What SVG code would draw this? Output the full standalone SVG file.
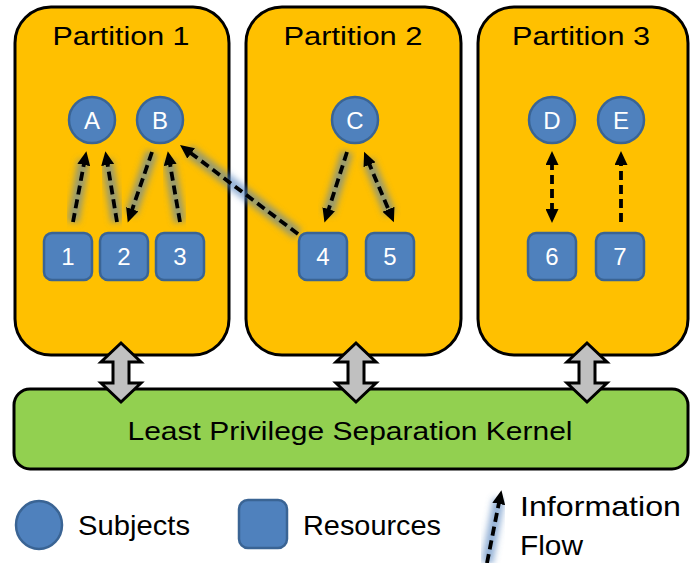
<svg xmlns="http://www.w3.org/2000/svg" width="690" height="563" viewBox="0 0 690 563">
<style>
.part{fill:#ffc000;stroke:#000;stroke-width:3}
.kern{fill:#92d050;stroke:#000;stroke-width:3}
.subj{fill:#4f81bd;stroke:#3a6494;stroke-width:2.5}
.res{fill:#4f81bd;stroke:#3a6494;stroke-width:2.5}
.lbl{font-family:"Liberation Sans",Arial,sans-serif;fill:#fff;font-size:24px;text-anchor:middle}
.title{font-family:"Liberation Sans",Arial,sans-serif;fill:#000;font-size:25px;text-anchor:middle}
.leg{font-family:"Liberation Sans",Arial,sans-serif;fill:#000;font-size:28px}
.dbl{fill:#c0c0c0;stroke:#000;stroke-width:3;stroke-linejoin:miter}
.glow{stroke:#4f81bd;stroke-width:12;stroke-opacity:0.6;fill:none;filter:url(#blur)}
.flow{stroke:#000;stroke-width:3.8;stroke-dasharray:9 5;fill:none;marker-end:url(#ah)}
.bi{marker-start:url(#ahs)}
</style>
<defs>
<filter id="blur" x="-50%" y="-50%" width="200%" height="200%"><feGaussianBlur stdDeviation="3"/></filter>
<marker id="ah" markerUnits="userSpaceOnUse" markerWidth="15" markerHeight="13" viewBox="0 0 15 13" refX="4" refY="6.5" orient="auto"><path d="M0,0 L14,6.5 L0,13 Z" fill="#000"/></marker>
<marker id="ahs" markerUnits="userSpaceOnUse" markerWidth="15" markerHeight="13" viewBox="0 0 15 13" refX="4" refY="6.5" orient="auto-start-reverse"><path d="M0,0 L14,6.5 L0,13 Z" fill="#000"/></marker>
</defs>

<g id="partition1"><rect class="part" x="15" y="7" width="214" height="348" rx="36"/><text class="title" x="121" y="45" textLength="137" lengthAdjust="spacingAndGlyphs">Partition 1</text></g>
<g id="partition2"><rect class="part" x="246" y="7" width="215" height="348" rx="36"/><text class="title" x="353" y="45" textLength="139" lengthAdjust="spacingAndGlyphs">Partition 2</text></g>
<g id="partition3"><rect class="part" x="478" y="7" width="210" height="348" rx="36"/><text class="title" x="581" y="45" textLength="138" lengthAdjust="spacingAndGlyphs">Partition 3</text></g>

<g id="kernel"><rect class="kern" x="14" y="389" width="674" height="80" rx="16"/><text class="title" x="350" y="440" font-size="26" textLength="445" lengthAdjust="spacingAndGlyphs">Least Privilege Separation Kernel</text></g>

<g id="links">
<path class="dbl" d="M121,343 L141,362 L129,362 L129,383 L141,383 L121,402 L101,383 L113,383 L113,362 L101,362 Z"/>
<path class="dbl" d="M356,343 L376,362 L364,362 L364,383 L376,383 L356,402 L336,383 L348,383 L348,362 L336,362 Z"/>
<path class="dbl" d="M587,343 L607,362 L595,362 L595,383 L607,383 L587,402 L567,383 L579,383 L579,362 L567,362 Z"/>
</g>

<g id="connectors">
<g id="glows">
<line class="glow" x1="73" y1="222" x2="84" y2="160"/>
<line class="glow" x1="117" y1="222" x2="107" y2="160"/>
<line class="glow" x1="152" y1="152" x2="131" y2="214"/>
<line class="glow" x1="180" y1="222" x2="169" y2="160"/>
<line class="glow" x1="298" y1="234" x2="188" y2="150"/>
<line class="glow" x1="347" y1="152" x2="328" y2="214"/>
<line class="glow" x1="368" y1="160" x2="390" y2="214"/>
<line class="glow" x1="552" y1="160" x2="552" y2="214"/>
<line class="glow" x1="621" y1="222" x2="621" y2="160"/>
<line class="glow" x1="487" y1="563" x2="499" y2="499"/>
</g>
<line class="flow" x1="73" y1="222" x2="84.5" y2="161"/>
<line class="flow" x1="117" y1="222" x2="107" y2="161"/>
<line class="flow" x1="152" y1="152" x2="131" y2="213"/>
<line class="flow" x1="180" y1="222" x2="169.5" y2="161"/>
<line class="flow" x1="298" y1="234" x2="188" y2="151"/>
<line class="flow" x1="347" y1="152" x2="327.5" y2="213"/>
<line class="flow bi" x1="368" y1="161" x2="390" y2="213"/>
<line class="flow bi" x1="552" y1="161" x2="552" y2="213"/>
<line class="flow" x1="621" y1="222" x2="621" y2="161"/>
<line class="flow" x1="487" y1="563" x2="499.5" y2="500"/>
</g>

<g id="A"><circle class="subj" cx="92" cy="120" r="23"/><text class="lbl" x="92" y="129">A</text></g>
<g id="B"><circle class="subj" cx="160" cy="120" r="23"/><text class="lbl" x="160" y="129">B</text></g>
<g id="C"><circle class="subj" cx="355" cy="120" r="23"/><text class="lbl" x="355" y="129">C</text></g>
<g id="D"><circle class="subj" cx="552" cy="120" r="23"/><text class="lbl" x="552" y="129">D</text></g>
<g id="E"><circle class="subj" cx="621" cy="120" r="23"/><text class="lbl" x="621" y="129">E</text></g>

<g id="r1"><rect class="res" x="44" y="233" width="48" height="47" rx="8"/><text class="lbl" x="68" y="265">1</text></g>
<g id="r2"><rect class="res" x="100" y="233" width="48" height="47" rx="8"/><text class="lbl" x="124" y="265">2</text></g>
<g id="r3"><rect class="res" x="156" y="233" width="48" height="47" rx="8"/><text class="lbl" x="180" y="265">3</text></g>
<g id="r4"><rect class="res" x="299" y="233" width="48" height="47" rx="8"/><text class="lbl" x="323" y="265">4</text></g>
<g id="r5"><rect class="res" x="366" y="233" width="48" height="47" rx="8"/><text class="lbl" x="390" y="265">5</text></g>
<g id="r6"><rect class="res" x="528" y="233" width="48" height="47" rx="8"/><text class="lbl" x="552" y="265">6</text></g>
<g id="r7"><rect class="res" x="596" y="233" width="48" height="47" rx="8"/><text class="lbl" x="620" y="265">7</text></g>

<g id="legend">
<ellipse class="subj" cx="39" cy="525" rx="23" ry="24"/>
<text class="leg" x="78" y="535" textLength="112" lengthAdjust="spacingAndGlyphs">Subjects</text>
<rect class="res" x="239" y="500" width="48" height="48" rx="9"/>
<text class="leg" x="303" y="535" textLength="138" lengthAdjust="spacingAndGlyphs">Resources</text>
<text class="leg" x="520" y="516" textLength="161" lengthAdjust="spacingAndGlyphs">Information</text>
<text class="leg" x="520" y="555" textLength="63" lengthAdjust="spacingAndGlyphs">Flow</text>
</g>
</svg>
